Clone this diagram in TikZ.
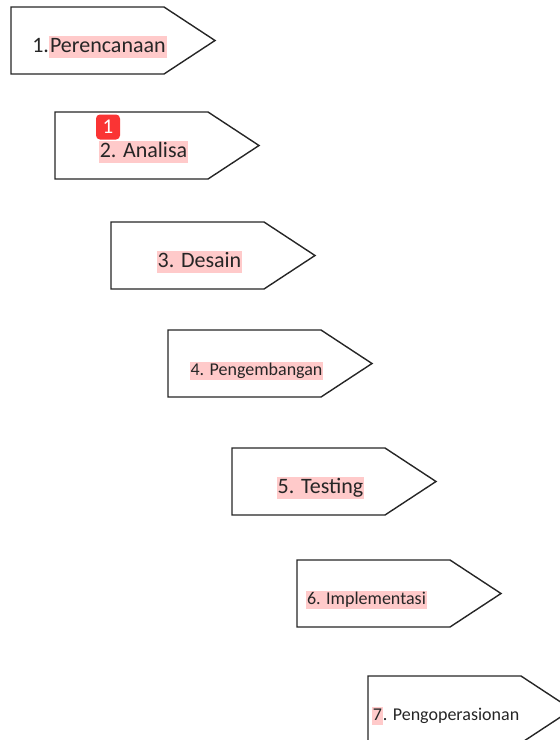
\documentclass[tikz,border=0pt]{standalone}
\usepackage{fontspec}
\setmainfont{Carlito}
\definecolor{marca}{RGB}{255,202,202}
\definecolor{selo}{RGB}{250,52,52}
\newcommand{\hl}[1]{{\setlength{\fboxsep}{0pt}\colorbox{marca}{\kern1pt\rule[-0.25em]{0pt}{1em}#1\kern1pt}}}

\begin{document}
\begin{tikzpicture}[x=1pt,y=-1pt]
% Caixas
\tikzset{seta/.style={draw=black!85,line width=1.4pt,fill=white,line join=miter},
  grande/.style={inner sep=0pt,text=black!85,font=\fontsize{22}{26}\selectfont},
  pequeno/.style={inner sep=0pt,text=black!85,font=\fontsize{18}{22}\selectfont},
  selo/.style={fill=selo,rounded corners=4pt,minimum width=24,minimum height=25,inner sep=0pt,text=white,font=\fontsize{21}{24}\selectfont}}

\useasboundingbox (0,0) rectangle (560,740);
\clip (0,0) rectangle (560,740);

\foreach \x/\y [count=\i] in {11/7,55/112,111/222,168/330,232/448,297/560,368/676}{
    \draw[seta] (\x,\y) -- ++(153,0) -- ++(51,33.5) -- ++(-51,33.5) -- ++(-153,0) -- cycle;
    \coordinate (c\i) at (\x+76.5,\y+33.5);
}

% Textos
\node[grande]  (t1) at ([shift={(12,6)}]c1) {1.\hl{Perencanaan}};
\node[grande]  (t2) at ([shift={(12,6)}]c2) {\hl{2. Analisa}};
\node[grande]  (t3) at ([shift={(12,6)}]c3) {\hl{3. Desain}};
\node[pequeno] (t4) at ([shift={(12,7)}]c4) {\hl{4. Pengembangan}};
\node[grande]  (t5) at ([shift={(12,6.5)}]c5) {\hl{5. Testing}};
\node[pequeno] (t6) at ([shift={(-7,6)}]c6) {\hl{6. Implementasi}};
\node[pequeno] (t7) at ([shift={(1,6.5)}]c7) {\hl{7}. Pengoperasionan};

\node[selo] (s1) at (108,127) {1};

\end{tikzpicture}
\end{document}
